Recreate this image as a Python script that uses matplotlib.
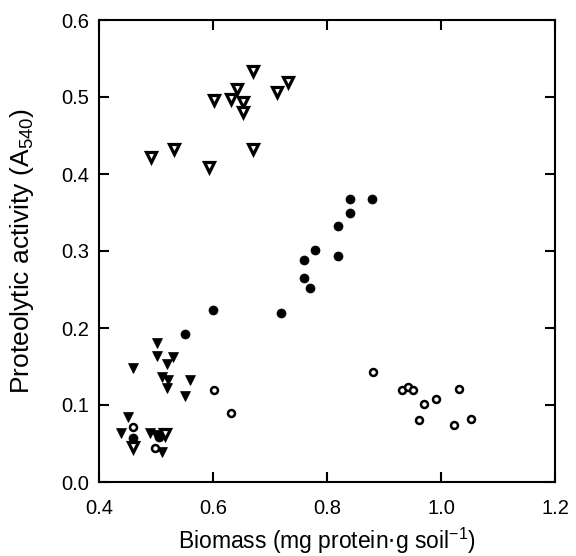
import matplotlib
matplotlib.use("Agg")
import matplotlib.pyplot as plt

plt.rcParams['font.family'] = ['Liberation Sans', 'DejaVu Sans']

# Open down triangles
open_tri_x = [0.491, 0.532, 0.593, 0.602, 0.632, 0.642, 0.652, 0.652, 0.671, 0.671, 0.712, 0.732,
              0.459, 0.515]
open_tri_y = [0.422, 0.433, 0.409, 0.496, 0.497, 0.511, 0.494, 0.481, 0.534, 0.432, 0.506, 0.520,
              0.045, 0.062]

# Filled down triangles
fill_tri_x = [0.501, 0.501, 0.530, 0.460, 0.520, 0.510, 0.521, 0.520, 0.560, 0.551,
              0.451, 0.439, 0.490, 0.500, 0.510]
fill_tri_y = [0.180, 0.164, 0.162, 0.148, 0.153, 0.137, 0.133, 0.122, 0.133, 0.112,
              0.084, 0.064, 0.064, 0.061, 0.039]

# Filled circles
fill_circ_x = [0.600, 0.719, 0.760, 0.779, 0.760, 0.770, 0.820, 0.820, 0.840, 0.840, 0.879,
               0.551, 0.459, 0.505]
fill_circ_y = [0.223, 0.220, 0.288, 0.301, 0.265, 0.252, 0.333, 0.294, 0.349, 0.367, 0.368,
               0.192, 0.057, 0.058]

# Open circles
open_circ_x = [0.880, 0.931, 0.942, 0.951, 0.971, 0.992, 0.962, 1.032, 1.022, 1.053,
               0.601, 0.632, 0.459, 0.498]
open_circ_y = [0.143, 0.120, 0.124, 0.120, 0.101, 0.108, 0.081, 0.121, 0.074, 0.082,
               0.119, 0.090, 0.071, 0.044]

x_ticks = [0.4, 0.6, 0.8, 1.0, 1.2]
y_ticks = [0.0, 0.1, 0.2, 0.3, 0.4, 0.5, 0.6]

fig = plt.figure(figsize=(5.76, 5.56), dpi=100)
ax = fig.add_axes([99/576, 1-482/556, (555-99)/576, (482-20)/556])

ax.plot(open_tri_x, open_tri_y, linestyle='none', marker='v', markersize=7,
        markerfacecolor='white', markeredgecolor='black', markeredgewidth=2.3)
ax.plot(fill_tri_x, fill_tri_y, linestyle='none', marker='v', markersize=7.2,
        markerfacecolor='black', markeredgecolor='black', markeredgewidth=0.5)
ax.plot(fill_circ_x, fill_circ_y, linestyle='none', marker='o', markersize=6.5,
        markerfacecolor='black', markeredgecolor='black', markeredgewidth=0.5)
ax.plot(open_circ_x, open_circ_y, linestyle='none', marker='o', markersize=5,
        markerfacecolor='white', markeredgecolor='black', markeredgewidth=1.8)

ax.set_xlim(0.4, 1.2)
ax.set_ylim(0.0, 0.6)
ax.set_xticks(x_ticks)
ax.set_yticks(y_ticks)
ax.set_xticklabels([f"{v:.1f}" for v in x_ticks])
ax.set_yticklabels([f"{v:.1f}" for v in y_ticks])
ax.tick_params(direction='in', length=7, width=1.5, top=True, right=True,
               labelsize=14.5)
ax.tick_params(axis='x', pad=12)
ax.tick_params(axis='y', pad=7)
for s in ax.spines.values():
    s.set_linewidth(1.5)

ax.set_xlabel(r"Biomass (mg protein$\cdot$g soil$^{\mathregular{-1}}$)", fontsize=16.5,
              va='baseline')
ax.set_ylabel(r"Proteolytic activity (A$_{\mathregular{540}}$)", fontsize=19)
ax.xaxis.set_label_coords(0.5, -(549 - 482) / 462)
ax.yaxis.set_label_coords(-(99 - 36) / 456, 0.5)

fig.savefig("out.png", dpi=100)
